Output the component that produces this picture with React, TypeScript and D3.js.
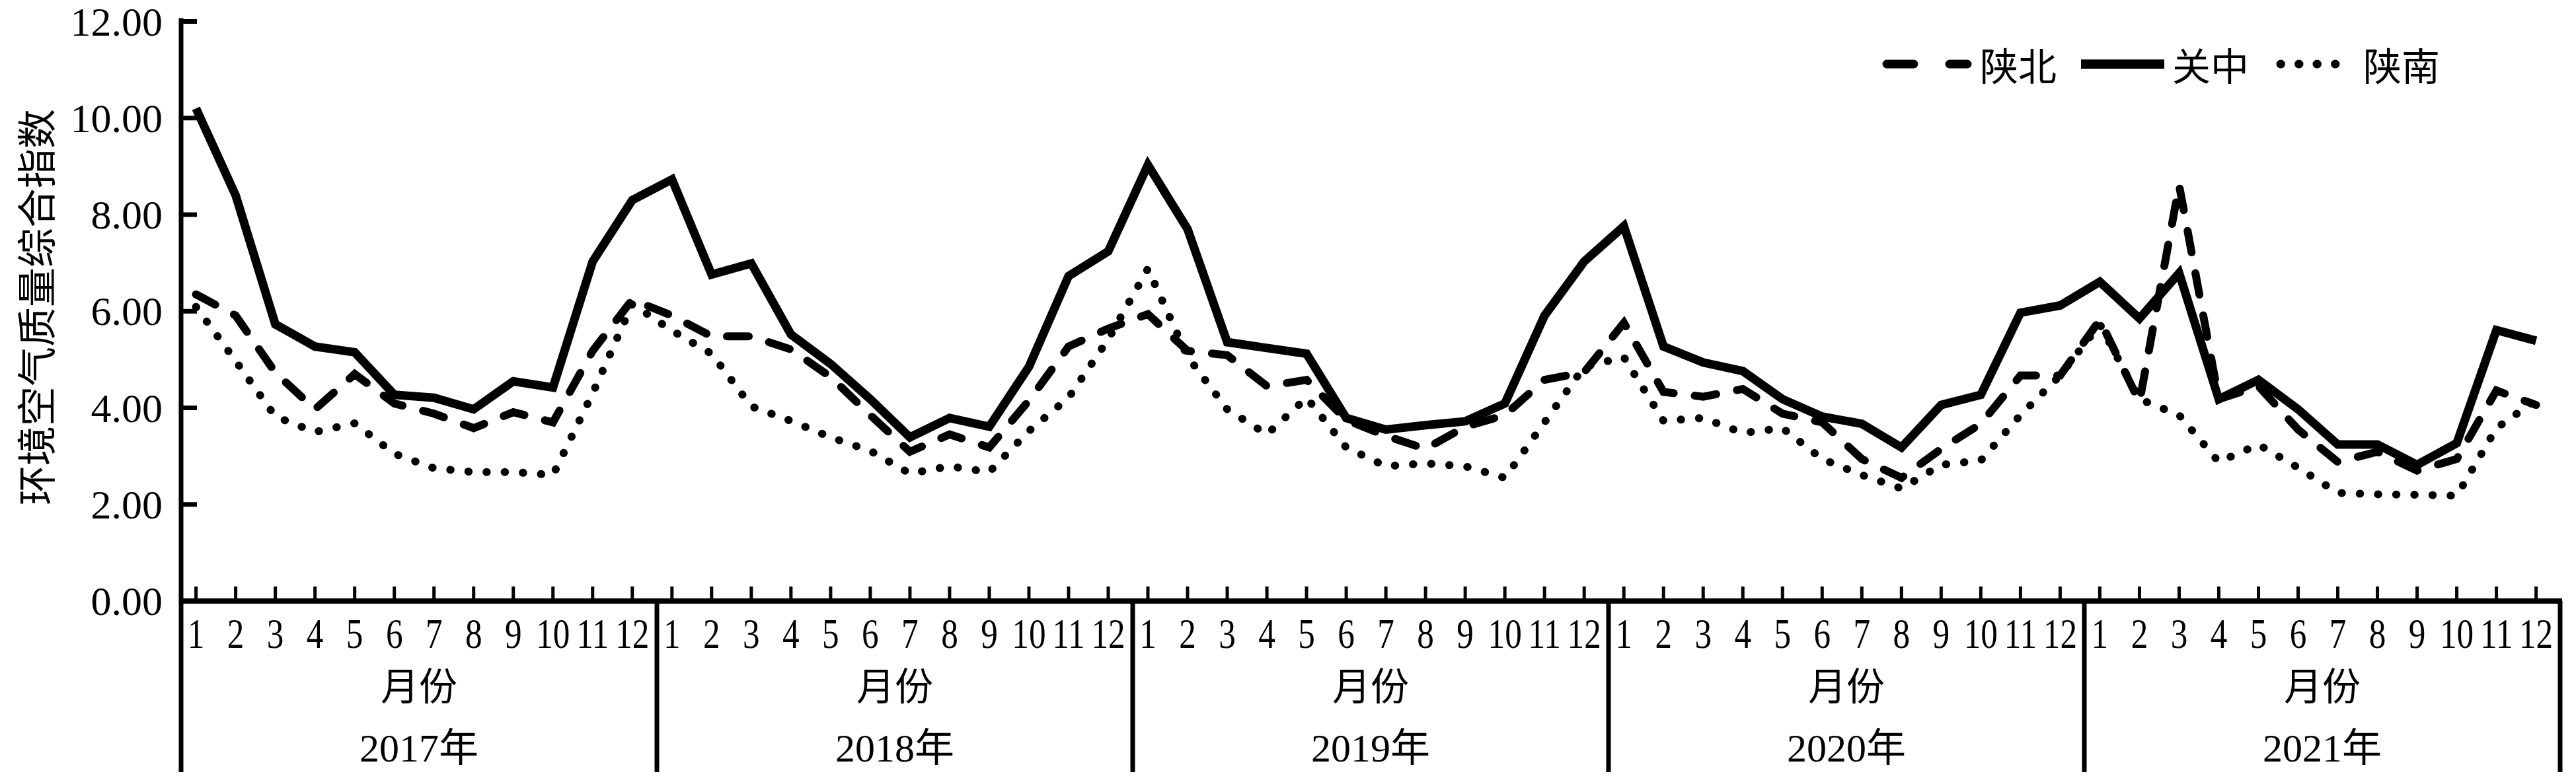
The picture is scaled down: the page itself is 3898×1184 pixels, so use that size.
import React from "react";
import * as d3 from "d3";

const years = ["2017年", "2018年", "2019年", "2020年", "2021年"];
const months = ["1", "2", "3", "4", "5", "6", "7", "8", "9", "10", "11", "12"];
const yTicks = [0, 2, 4, 6, 8, 10, 12];
const monthAxisTitle = "月份";
const yAxisTitle = "环境空气质量综合指数";

const shaanbei = [
  6.35, 5.91, 4.73, 3.97, 4.7, 4.09, 3.88, 3.58, 3.91, 3.7, 5.18, 6.24,
  5.91, 5.48, 5.48, 5.21, 4.64, 3.85, 3.09, 3.45, 3.18, 4.15, 5.27, 5.64,
  5.94, 5.18, 5.09, 4.45, 4.58, 3.75, 3.42, 3.15, 3.61, 3.85, 4.58, 4.74,
  5.76, 4.33, 4.23, 4.39, 3.88, 3.7, 2.94, 2.55, 3.15, 3.67, 4.67, 4.67,
  5.82, 4.12, 8.61, 4.18, 4.45, 3.55, 2.88, 3.09, 2.7, 2.94, 4.36, 4.06,
];
const guanzhong = [
  10.2, 8.4, 5.73, 5.27, 5.15, 4.27, 4.21, 3.97, 4.55, 4.42, 7.03, 8.3,
  8.73, 6.76, 6.99, 5.52, 4.91, 4.18, 3.39, 3.79, 3.61, 4.85, 6.73, 7.24,
  9.03, 7.7, 5.36, 5.24, 5.12, 3.79, 3.55, 3.64, 3.72, 4.09, 5.91, 7.03,
  7.76, 5.27, 4.94, 4.76, 4.18, 3.82, 3.67, 3.18, 4.06, 4.27, 5.97, 6.12,
  6.61, 5.85, 6.79, 4.18, 4.58, 3.97, 3.24, 3.24, 2.82, 3.27, 5.61, 5.39,
];
const shaannan = [
  6.09, 4.97, 3.82, 3.5, 3.68, 3.05, 2.75, 2.67, 2.67, 2.61, 4.3, 6.15,
  5.6, 5.12, 4.03, 3.73, 3.39, 3.11, 2.64, 2.79, 2.67, 3.52, 4.21, 5.42,
  6.88, 5.06, 3.97, 3.45, 4.21, 3.18, 2.79, 2.85, 2.79, 2.55, 3.7, 4.85,
  5.05, 3.73, 3.79, 3.48, 3.58, 2.94, 2.61, 2.33, 2.82, 2.91, 3.85, 4.67,
  5.73, 4.18, 3.85, 2.88, 3.24, 2.76, 2.24, 2.21, 2.2, 2.18, 3.58, 4.16,
];

const seriesNames = ["陕北", "关中", "陕南"];

const W = 3898;
const H = 1184;
const AX_LEFT = 274;
const AX_RIGHT = 3874;
const AX_Y = 910;
const AX_TOP = 32.5;
const BOTTOM = 1169;
const SERIF = "'Liberation Serif', 'Times New Roman', 'Noto Sans CJK SC', serif";
const CJK = "'Noto Sans CJK SC', 'Liberation Serif', sans-serif";

export default function App() {
  const n = years.length * months.length;
  const idx = d3.range(n);
  const x = d3.scalePoint<number>().domain(idx).range([296.6, 3837.6]);
  const y = d3.scaleLinear().domain([0, 12]).range([AX_Y, AX_TOP]);
  const yearBand = d3
    .scaleBand<string>()
    .domain(years)
    .range([AX_LEFT, AX_RIGHT])
    .paddingInner(0)
    .paddingOuter(0);

  const line = d3
    .line<number>()
    .x((_, i) => x(i) as number)
    .y((d) => y(d));

  const styles = [
    { data: shaanbei, dash: "33,32", legendDash: "41,54", cap: "round" as const },
    { data: guanzhong, dash: undefined, legendDash: undefined, cap: "butt" as const },
    { data: shaannan, dash: "0.5,27", legendDash: "0.5,27", cap: "round" as const },
  ];

  const legend = [
    { x1: 2855, x2: 2977, tx: 2996 },
    { x1: 3149, x2: 3275, tx: 3287 },
    { x1: 3451, x2: 3561, tx: 3576 },
  ];

  return (
    <svg
      width={W}
      height={H}
      viewBox={`0 0 ${W} ${H}`}
      style={{ position: "absolute", left: 0, top: 0, background: "#fff" }}
    >
      <rect x={0} y={0} width={W} height={H} fill="#fff" />

      {/* y axis title */}
      <text
        transform={`translate(51,465) rotate(-90)`}
        textAnchor="middle"
        dominantBaseline="central"
        fontFamily={CJK}
        fontSize={60}
        fill="#000"
      >
        {yAxisTitle}
      </text>

      {/* y ticks & labels */}
      {yTicks.map((t) => (
        <g key={t}>
          <line x1={AX_LEFT} x2={AX_LEFT + 24} y1={y(t)} y2={y(t)} stroke="#000" strokeWidth={7} />
          <text
            x={246}
            y={y(t) + 21}
            textAnchor="end"
            fontFamily={SERIF}
            fontSize={62}
            fill="#000"
          >
            {t.toFixed(2)}
          </text>
        </g>
      ))}

      {/* series */}
      {styles.map((s, k) => (
        <path
          key={k}
          d={line(s.data) || ""}
          fill="none"
          stroke="#000"
          strokeWidth={k === 1 ? 13 : 12}
          strokeDasharray={s.dash}
          strokeLinecap={s.cap}
          strokeLinejoin="miter"
        />
      ))}

      {/* x axis ticks */}
      {idx.map((i) => (
        <line
          key={i}
          x1={x(i)}
          x2={x(i)}
          y1={AX_Y - 22}
          y2={AX_Y}
          stroke="#000"
          strokeWidth={5}
        />
      ))}

      {/* axes lines */}
      <line x1={AX_LEFT} x2={AX_LEFT} y1={AX_TOP - 5} y2={BOTTOM} stroke="#000" strokeWidth={7} />
      <line x1={AX_LEFT - 3} x2={AX_RIGHT + 3} y1={AX_Y} y2={AX_Y} stroke="#000" strokeWidth={8} />

      {/* year separators */}
      {years.map((yr) => {
        const bx = (yearBand(yr) as number) + yearBand.bandwidth();
        return (
          <line key={yr} x1={bx} x2={bx} y1={AX_Y} y2={BOTTOM} stroke="#000" strokeWidth={7} />
        );
      })}

      {/* month labels */}
      {idx.map((i) => (
        <text
          key={i}
          transform={`translate(${x(i)},981) scale(0.8,1)`}
          textAnchor="middle"
          fontFamily={SERIF}
          fontSize={64}
          fill="#000"
        >
          {months[i % 12]}
        </text>
      ))}

      {/* month title and year labels */}
      {years.map((yr) => {
        const cx = (yearBand(yr) as number) + yearBand.bandwidth() / 2;
        return (
          <g key={yr}>
            <text
              x={cx}
              y={1035}
              textAnchor="middle"
              dominantBaseline="central"
              fontFamily={CJK}
              fontSize={58}
              fill="#000"
            >
              {monthAxisTitle}
            </text>
            <text
              x={cx}
              y={1153}
              textAnchor="middle"
              fontFamily={SERIF}
              fontSize={60}
              fill="#000"
            >
              {yr}
            </text>
          </g>
        );
      })}

      {/* legend */}
      {styles.map((s, k) => (
        <g key={k}>
          <line
            x1={legend[k].x1}
            x2={legend[k].x2}
            y1={97}
            y2={97}
            stroke="#000"
            strokeWidth={k === 1 ? 14 : 13}
            strokeDasharray={s.legendDash}
            strokeLinecap={s.cap}
          />
          <text
            x={legend[k].tx}
            y={97}
            dominantBaseline="central"
            fontFamily={CJK}
            fontSize={58}
            fill="#000"
          >
            {seriesNames[k]}
          </text>
        </g>
      ))}
    </svg>
  );
}
